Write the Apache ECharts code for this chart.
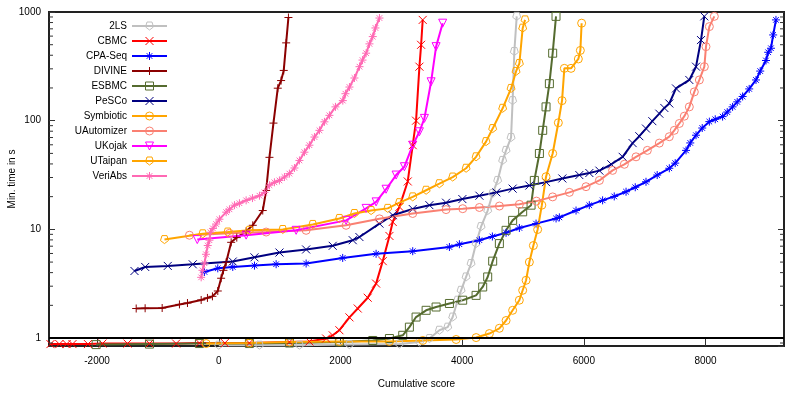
<!DOCTYPE html>
<html>
<head>
<meta charset="utf-8">
<script src="https://cdn.jsdelivr.net/npm/echarts@6/dist/echarts.min.js"></script>
<style>
  html, body { margin: 0; padding: 0; background: #fff; }
  #main { width: 799px; height: 397px; }
</style>
</head>
<body>
<div id="main"></div>
<script>
// axis ranges and tick labels
const X_MIN = -2790, X_MAX = 9290;
const Y_MIN = 0.845, Y_MAX = 1000;
const xTickLabels = [-2000, 0, 2000, 4000, 6000, 8000];
const yTickLabels = [1, 10, 100, 1000];

// [cumulative score, min. time in s]
const twoLS = [[0,0.86],[669,0.86],[1326,0.86],[2148,0.87],[2969,0.88],[3298,0.92],[3463,0.99],[3626,1.18],[3763,1.26],[3845,1.56],[3927,2.23],[3983,2.75],[4065,3.65],[4147,4.85],[4229,7.4],[4311,10.6],[4420,14.9],[4502,21.4],[4584,28.2],[4666,43.1],[4722,53.3],[4804,70],[4830,153],[4858,433],[4897,912]];
const cbmc = [[-2766,0.88],[-2620,0.88],[-2500,0.88],[-2404,0.88],[-2150,0.88],[-1911,0.89],[-1500,0.89],[-1139,0.89],[-700,0.89],[-318,0.9],[100,0.9],[504,0.9],[1162,0.92],[1490,0.93],[1765,0.99],[1873,1.06],[1983,1.18],[2148,1.55],[2284,1.87],[2448,2.35],[2586,3.17],[2695,5.1],[2805,8.7],[2859,11.7],[2969,16.1],[3106,27.6],[3188,59.5],[3243,100],[3298,314],[3326,499],[3352,846]];
const cpaSeq = [[-235,4.06],[-16,4.38],[230,4.51],[587,4.64],[943,4.78],[1436,4.85],[2037,5.46],[2586,5.96],[3188,6.3],[3791,6.88],[3955,7.3],[4284,7.95],[4497,8.6],[4722,9.3],[4941,10.3],[5215,11.3],[5544,12.6],[5598,12.9],[5872,14.9],[6090,16.7],[6309,18.5],[6500,20.1],[6694,22.2],[6845,24.4],[7022,27.4],[7206,31.6],[7405,36.5],[7502,40.7],[7680,53.3],[7749,62.4],[7844,73.5],[7946,85.6],[8063,98],[8160,103],[8281,109],[8357,120],[8445,134],[8521,149],[8610,167],[8718,196],[8830,237],[8899,286],[8994,358],[9030,426],[9076,464],[9112,615],[9158,846]];
const divine = [[-1357,1.87],[-1210,1.88],[-930,1.89],[-646,2.04],[-514,2.1],[-289,2.24],[-186,2.34],[-104,2.42],[-16,2.71],[39,3.55],[77,4.2],[122,4.98],[204,7.6],[296,8.4],[450,9.6],[559,10.9],[723,14.9],[779,22.8],[833,46],[899,95],[970,199],[1025,234],[1068,290],[1108,520],[1145,890]];
const esbmc = [[-2015,0.87],[-1139,0.88],[-318,0.89],[504,0.89],[1162,0.9],[1983,0.92],[2531,0.95],[2805,0.99],[3024,1.06],[3133,1.26],[3243,1.56],[3408,1.8],[3572,1.93],[3791,2.08],[4009,2.23],[4229,2.47],[4338,2.95],[4420,3.65],[4502,5.1],[4612,7.4],[4722,9.8],[4830,12.1],[4995,14.5],[5133,16.7],[5187,28.2],[5270,49.9],[5324,81.5],[5379,134],[5434,219],[5488,418],[5543,912]];
const pesco = [[-1385,4.14],[-1209,4.51],[-838,4.61],[-427,4.77],[230,5.06],[587,5.53],[998,6.12],[1436,6.53],[1873,7.06],[2202,7.95],[2312,8.5],[2641,11.3],[2859,13.5],[3188,15.4],[3462,16.7],[3736,17.6],[4004,19],[4284,20.4],[4563,21.9],[4830,23.7],[5105,25.3],[5379,27.2],[5647,29.4],[5926,31.6],[6091,33],[6256,34.7],[6452,39.7],[6638,46.5],[6802,62.2],[6912,72],[7022,84.6],[7126,99],[7241,116],[7323,131],[7405,144],[7515,198],[7734,237],[7844,314],[7926,552],[7980,912]];
const symbiotic = [[-207,0.89],[504,0.9],[1162,0.92],[1983,0.93],[2805,0.93],[3353,0.95],[3901,0.97],[4230,1.01],[4448,1.1],[4612,1.23],[4722,1.45],[4830,1.8],[4940,2.23],[4995,2.75],[5051,3.4],[5105,5],[5171,7.1],[5241,9.97],[5310,16.7],[5379,30.5],[5488,49.9],[5581,95.7],[5642,153],[5680,303],[5790,303],[5910,370],[5943,443],[5964,789]];
const uautomizer = [[-482,8.83],[176,9.2],[779,9.45],[1436,9.8],[2093,10.9],[2641,12.5],[3188,14],[3736,15.2],[4010,15.5],[4284,15.9],[4613,16.4],[4941,17],[5221,18.2],[5488,19.9],[5763,21.9],[6036,24.7],[6256,28.2],[6473,34.9],[6666,39.7],[6858,46.5],[7044,53.3],[7241,62.2],[7405,71.2],[7487,81.5],[7570,94.3],[7652,110],[7734,134],[7816,184],[7899,237],[7981,314],[8008,480],[8063,734],[8145,912]];
const ukojak = [[-353,8.05],[450,8.85],[1272,9.8],[2093,12.1],[2422,15.6],[2586,17.9],[2750,23.4],[2915,31.6],[3051,37.7],[3188,59.5],[3298,79.1],[3380,105],[3490,228],[3572,480],[3680,789]];
const utaipan = [[-892,8.05],[-263,9.1],[148,9.45],[504,9.8],[1052,9.97],[1545,11.1],[1983,12.6],[2230,14],[2504,14.9],[2777,15.6],[2969,17.6],[3188,19.9],[3408,22.9],[3626,26.3],[3845,30.3],[4065,36.5],[4229,46.5],[4393,64.2],[4502,84.6],[4666,130],[4804,198],[4886,284],[4941,336],[4995,710],[5034,846]];
const veriAbs = [[-289,3.62],[-268,4.2],[-235,4.88],[-210,5.9],[-181,7.1],[-153,7.95],[-136,9.4],[-95,10.2],[-43,11.2],[11,12.4],[122,14.4],[176,15.3],[258,16.7],[340,17.4],[450,18.5],[554,19.4],[669,20.4],[751,21.9],[833,25.5],[915,27.1],[997,28.2],[1080,30.3],[1161,32.6],[1244,36.7],[1326,43.1],[1408,51.3],[1490,59.5],[1573,70.7],[1655,81.5],[1737,97.6],[1819,112],[1918,134],[2039,153],[2082,177],[2148,204],[2230,247],[2313,314],[2362,361],[2422,418],[2477,509],[2531,594],[2575,713],[2641,880]];

const CROSS = 'path://M0,0L10,10M10,0L0,10';
const PLUS = 'path://M5,0L5,10M0,5L10,5';
const STAR = 'path://M5,0L5,10M0,5L10,5M1.5,1.5L8.5,8.5M8.5,1.5L1.5,8.5';
const PENTA = 'path://M5,10L0.245,6.55L2.06,0.955L7.94,0.955L9.755,6.55Z';
const TRI_DOWN = 'path://M0,0L10,0L5,8.66Z';

const defs = [
    ['2LS', twoLS, '#c0c0c0', PENTA],
    ['CBMC', cbmc, '#ff0000', CROSS],
    ['CPA-Seq', cpaSeq, '#0000ff', STAR],
    ['DIVINE', divine, '#8b0000', PLUS],
    ['ESBMC', esbmc, '#556b2f', 'rect'],
    ['PeSCo', pesco, '#000080', CROSS],
    ['Symbiotic', symbiotic, '#ffa500', 'circle'],
    ['UAutomizer', uautomizer, '#fa8072', 'circle'],
    ['UKojak', ukojak, '#ff00ff', TRI_DOWN],
    ['UTaipan', utaipan, '#ffa500', PENTA],
    ['VeriAbs', veriAbs, '#ff69b4', STAR]
];

// minor ticks of the log axis, drawn on both sides
const minorTicks = [];
[0.1, 1, 10, 100].forEach(d => {
    [2, 3, 4, 5, 6, 7, 8, 9].forEach(k => {
        const v = k * d;
        if (v > Y_MIN && v < Y_MAX) minorTicks.push([X_MIN, v]);
    });
});

const font = 'Liberation Sans, Arial, sans-serif';
const chart = echarts.init(document.getElementById('main'));

const series = defs.map(([name, data, color, symbol]) => ({
    name: name,
    type: 'line',
    data: data,
    symbol: symbol,
    symbolSize: 8,
    showAllSymbol: true,
    lineStyle: {color: color, width: 2},
    itemStyle: {color: 'rgba(0,0,0,0)', borderColor: color, borderWidth: 1},
    emphasis: {disabled: true},
    z: 3
}));

series.push({
    type: 'custom',
    silent: true,
    clip: false,
    data: minorTicks,
    renderItem: function (params, api) {
        const v = api.value(1);
        const l = api.coord([X_MIN, v]);
        const r = api.coord([X_MAX, v]);
        return {
            type: 'group',
            children: [
                {type: 'line', shape: {x1: l[0], y1: l[1], x2: l[0] + 4, y2: l[1]}, style: {stroke: '#333', lineWidth: 1}},
                {type: 'line', shape: {x1: r[0] - 4, y1: r[1], x2: r[0], y2: r[1]}, style: {stroke: '#333', lineWidth: 1}}
            ]
        };
    },
    markLine: {
        silent: true,
        symbol: 'none',
        label: {show: false},
        lineStyle: {color: '#000', width: 2, type: 'solid'},
        data: [{yAxis: 1}]
    },
    z: 4
});

const option = {
    animation: false,
    backgroundColor: '#fff',
    textStyle: {fontFamily: font},
    grid: {
        left: 49,
        right: 15,
        top: 12,
        bottom: 51,
        outerBoundsMode: 'none',
        containLabel: false,
        show: true,
        borderColor: '#222',
        borderWidth: 2,
        backgroundColor: 'transparent'
    },
    legend: {
        orient: 'vertical',
        align: 'right',
        right: 631,
        top: 21,
        padding: 0,
        itemWidth: 35,
        itemHeight: 10,
        itemGap: 5,
        itemStyle: {color: 'rgba(0,0,0,0)', borderWidth: 1},
        textStyle: {fontFamily: font, fontSize: 10, color: '#000'},
        data: defs.map(d => d[0])
    },
    xAxis: {
        type: 'value',
        min: X_MIN,
        max: X_MAX,
        name: 'Cumulative score',
        nameLocation: 'middle',
        nameGap: 33,
        nameMoveOverlap: false,
        nameTextStyle: {fontFamily: font, fontSize: 10, color: '#000'},
        axisLine: {show: false, onZero: false},
        axisTick: {inside: true, length: 8, lineStyle: {color: '#333', width: 1}},
        axisLabel: {
            fontFamily: font, fontSize: 10, color: '#000', margin: 10,
            showMinLabel: false, showMaxLabel: false,
            formatter: v => xTickLabels.indexOf(v) >= 0 ? String(v) : ''
        },
        splitLine: {show: false}
    },
    yAxis: [
        {
            type: 'log',
            min: Y_MIN,
            max: Y_MAX,
            position: 'left',
            name: 'Min. time in s',
            nameLocation: 'middle',
            nameGap: 32,
            nameMoveOverlap: false,
            nameTextStyle: {fontFamily: font, fontSize: 10, color: '#000'},
            axisLine: {show: false, onZero: false},
            axisTick: {inside: true, length: 6, lineStyle: {color: '#333', width: 1}},
            axisLabel: {
                fontFamily: font, fontSize: 10, color: '#000', margin: 8,
                formatter: v => {
                    const r = Math.round(v * 1000) / 1000;
                    return yTickLabels.indexOf(r) >= 0 ? String(r) : '';
                }
            },
            splitLine: {show: false}
        },
        {
            type: 'log',
            min: Y_MIN,
            max: Y_MAX,
            position: 'right',
            axisLine: {show: false, onZero: false},
            axisTick: {inside: true, length: 6, lineStyle: {color: '#333', width: 1}},
            axisLabel: {show: false},
            splitLine: {show: false}
        }
    ],
    series: series
};

chart.setOption(option);
</script>
</body>
</html>
